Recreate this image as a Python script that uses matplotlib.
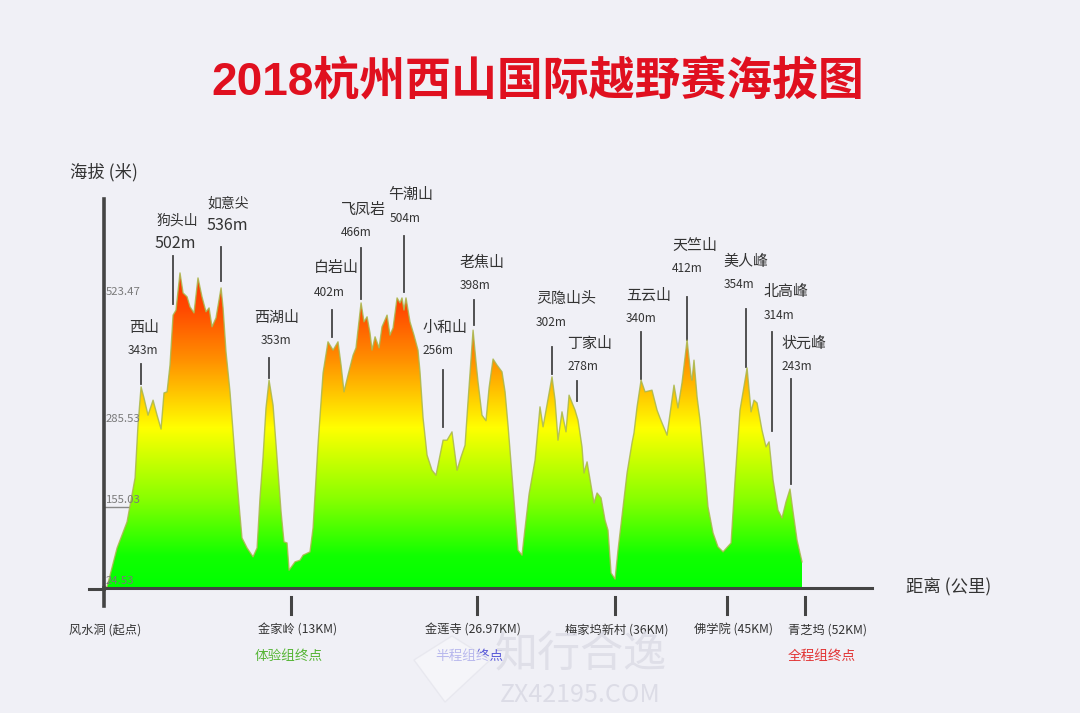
# 2018 杭州西山国际越野赛 海拔图

import numpy as np
import matplotlib
matplotlib.use('Agg')
import matplotlib.pyplot as plt
from matplotlib.colors import LinearSegmentedColormap
from matplotlib.patches import Polygon

plt.rcParams['font.family'] = ['Noto Sans CJK SC', 'DejaVu Sans']

# 赛道剖面: 距离(公里) / 海拔(米)
distance_km = [
    0, 0.23, 0.98, 1.73, 2.33, 2.55, 2.78, 3.0, 3.3, 3.68, 3.98, 4.28, 4.5, 4.73, 4.95, 5.18,
    5.4, 5.7, 5.93, 6.23, 6.45, 6.75, 7.05, 7.35, 7.65, 7.88, 8.1, 8.4, 8.78, 8.93, 9.15,
    9.45, 9.83, 10.13, 10.35, 10.73, 11.18, 11.48, 11.7, 11.93, 12.15, 12.38, 12.68, 12.98,
    13.28, 13.5, 13.73, 13.88, 14.33, 14.7, 14.93, 15.45, 15.68, 16.05, 16.43, 16.8, 17.18,
    17.55, 17.78, 18.0, 18.3, 18.68, 18.9, 19.28, 19.5, 19.73, 19.95, 20.1, 20.33, 20.63,
    20.85, 21.23, 21.45, 21.68, 21.98, 22.2, 22.35, 22.5, 22.65, 22.95, 23.25, 23.55, 23.7,
    23.93, 24.23, 24.6, 24.9, 25.2, 25.43, 25.73, 26.1, 26.48, 26.78, 27.08, 27.3, 27.68,
    27.9, 28.05, 28.35, 28.65, 28.88, 29.18, 29.48, 29.85, 30.08, 30.3, 30.6, 30.9, 31.05,
    31.35, 31.58, 31.88, 32.33, 32.7, 32.93, 33.6, 33.83, 34.05, 34.35, 34.65, 34.88, 35.33,
    35.55, 35.85, 36.0, 36.23, 36.75, 36.98, 37.28, 37.58, 37.8, 38.03, 38.33, 38.55, 39.23,
    39.6, 39.75, 39.98, 40.28, 40.58, 41.1, 41.48, 41.7, 42.23, 42.75, 43.05, 43.35, 43.73,
    44.03, 44.1, 44.25, 44.48, 44.7, 45.08, 45.3, 45.68, 46.05, 46.43, 47.03, 47.33, 47.7,
    48.23, 48.53, 48.75, 48.98, 49.35, 49.65, 49.88, 50.18, 50.55, 50.85, 51.15, 51.45,
    51.68, 51.98, 52.35,
]
elevation_m = [
    0, 2, 72, 119, 198, 293, 362, 342, 311, 338, 311, 286, 351, 353, 401, 491,
    500, 567, 531, 524, 506, 495, 558, 524, 497, 504, 470, 486, 540, 504, 425,
    353, 234, 149, 90, 72, 56, 72, 162, 236, 324, 374, 329, 234,
    137, 83, 81, 32, 47, 50, 59, 65, 108, 257, 387, 443, 428,
    443, 401, 353, 383, 419, 432, 513, 479, 488, 459, 428, 452, 432,
    470, 491, 455, 468, 522, 513, 522, 500, 522, 479, 455, 428, 389,
    306, 239, 212, 203, 239, 266, 266, 281, 212, 236, 257, 335, 464,
    407, 371, 311, 301, 360, 412, 401, 389, 353, 293, 203, 113, 68,
    59, 108, 169, 230, 326, 290, 380, 338, 266, 317, 281, 347, 320,
    302, 254, 207, 227, 153, 171, 162, 122, 104, 27, 16, 68, 207,
    261, 279, 326, 374, 353, 356, 320, 306, 275, 365, 324, 369, 446,
    380, 374, 410, 344, 302, 207, 146, 99, 74, 65, 81, 194, 320,
    396, 317, 338, 333, 284, 254, 263, 194, 140, 126, 155, 178,
    137, 86, 47,
]

# 山峰标注
peak_names = ['西山', '狗头山', '如意尖', '西湖山', '白岩山', '飞凤岩', '午潮山', '小和山',
              '老焦山', '灵隐山头', '丁家山', '五云山', '天竺山', '美人峰', '北高峰', '状元峰']
peak_heights = ['343m', '502m', '536m', '353m', '402m', '466m', '504m', '256m',
                '398m', '302m', '278m', '340m', '412m', '354m', '314m', '243m']

# 标注位置(像素): 名称x, 名称y, 数字x, 数字y, 引线x, 引线上, 引线下
peak_layout = [
    (144, 328, 143, 351, 141, 364, 384),
    (177, 221, 175, 243, 173, 256, 304),
    (228, 204, 227, 225, 221, 247, 281),
    (277, 318, 276, 340, 269, 358, 378),
    (336, 268, 329, 292, 332, 310, 337),
    (363, 210, 356, 232, 361, 248, 299),
    (411, 195, 405, 218, 404, 236, 292),
    (445, 328, 438, 351, 443, 370, 427),
    (482, 263, 475, 286, 474, 300, 325),
    (566, 299, 551, 322, 552, 347, 374),
    (590, 344, 583, 367, 577, 381, 401),
    (649, 296, 641, 319, 641, 332, 379),
    (695, 246, 687, 269, 687, 297, 340),
    (746, 262, 739, 285, 746, 309, 367),
    (786, 292, 779, 315, 772, 332, 431),
    (804, 344, 797, 367, 791, 379, 484),
]

# 左侧海拔读数
elev_labels = ['523.47', '285.53', '155.03', '24.53']
elev_label_y = [292, 419, 500, 581]

# 下方站点
station_names = ['风水洞 (起点)', '金家岭 (13KM)', '金莲寺 (26.97KM)', '梅家坞新村 (36KM)',
                 '佛学院 (45KM)', '青芝坞 (52KM)']
station_km = [0, 14.03, 27.98, 38.33, 46.73, 52.58]
station_label_x = [105, 298, 473, 617, 733, 827]
finish_names = ['体验组终点', '半程组终点', '全程组终点']
finish_colors = ['#55b535', '#5a5ad8', '#e23535']
finish_label_x = [289, 469, 822]

BG = '#f0f0f6'
DARK = '#444444'
TEXT = '#333333'


def px(x, y):
    # 像素坐标 -> 图坐标
    return x / 1080, 1 - y / 713


def pixel_line(x0, y0, x1, y1, color=DARK, lw=1.3):
    a, b = px(x0, y0)
    c, d = px(x1, y1)
    fig.add_artist(plt.Line2D([a, c], [b, d], color=color, lw=lw))


fig = plt.figure(figsize=(10.8, 7.13), dpi=100, facecolor=BG)

# 主坐标轴: 左 104 右 872 底 588 顶 199
ax = fig.add_axes([104 / 1080, 1 - 588 / 713, 768 / 1080, 389 / 713])
ax.set_facecolor('none')

# 渐变填充
grad_cmap = LinearSegmentedColormap.from_list('elev', [
    (0.0, '#00ff00'), (0.1, '#10ff00'), (0.28, '#88ff00'), (0.505, '#ffff00'),
    (0.72, '#ff9000'), (0.88, '#ff4a00'), (1.0, '#ff3000')])
grad = np.linspace(0, 1, 256).reshape(-1, 1)
im = ax.imshow(grad, cmap=grad_cmap, origin='lower', aspect='auto',
               extent=[0, 57.6, 0, 570], zorder=1)
clip = Polygon(list(zip(distance_km, elevation_m)) + [(distance_km[-1], 0), (0, 0)],
               closed=True, transform=ax.transData, facecolor='none', edgecolor='none')
ax.add_patch(clip)
im.set_clip_path(clip)
ax.plot(distance_km, elevation_m, color='#a9b84c', lw=1.0, alpha=0.85, zorder=2)
ax.set_xlim(0, 57.6)
ax.set_ylim(0, 700)

# 坐标轴
for side in ['top', 'right']:
    ax.spines[side].set_visible(False)
ax.spines['left'].set_color(DARK)
ax.spines['left'].set_linewidth(2.6)
ax.spines['bottom'].set_color(DARK)
ax.spines['bottom'].set_linewidth(2.2)
ax.set_xticks([])
ax.set_yticks([])
ax.set_zorder(3)

# 刻度是和轴线分开的短线
for km in station_km[1:]:
    x_pixel = 104 + km / 57.6 * 768
    pixel_line(x_pixel, 597, x_pixel, 614, lw=2.2)
pixel_line(104, 588, 104, 606, lw=2.6)
pixel_line(89, 589, 104, 589, lw=2.2)
pixel_line(105, 507, 131, 507, color='#888888', lw=1.0)

# 标题和轴标题
fig.text(*px(538, 83), '2018杭州西山国际越野赛海拔图', color='#e0101f', fontsize=33,
         fontweight='bold', ha='center', va='center',
         family=['Liberation Sans', 'Noto Sans CJK SC'])
fig.text(*px(104, 172), '海拔 (米)', color=TEXT, fontsize=12.5, ha='center', va='center')
fig.text(*px(949, 587), '距离 (公里)', color=TEXT, fontsize=12.5, ha='center', va='center')

# 海拔读数
for label, y in zip(elev_labels, elev_label_y):
    fig.text(*px(106, y), label, color='#7a7a7a', fontsize=8.2, ha='left', va='center', zorder=5)

# 山峰名称 + 高度 + 引线
for name, height, pos in zip(peak_names, peak_heights, peak_layout):
    nx, ny, hx, hy, lx, ly0, ly1 = pos
    big = height in ('502m', '536m')
    fig.text(*px(nx, ny), name, color=TEXT, fontsize=10 if big else 10.8, ha='center', va='center')
    fig.text(*px(hx, hy), height, color=TEXT, fontsize=11.5 if big else 8.6, ha='center', va='center')
    pixel_line(lx, ly0, lx, ly1)

# 站点
for name, x in zip(station_names, station_label_x):
    fig.text(*px(x, 630), name, color=TEXT, fontsize=8.8, ha='center', va='center')
for name, color, x in zip(finish_names, finish_colors, finish_label_x):
    fig.text(*px(x, 656), name, color=color, fontsize=9.8, ha='center', va='center')

# 水印
logo = [px(414, 660), px(452, 636), px(490, 660), px(445, 702)]
fig.add_artist(Polygon(logo, closed=True, transform=fig.transFigure, facecolor='#f9f9fc',
                       edgecolor='#e2e2ea', lw=1, alpha=0.6, zorder=6))
fig.text(*px(581, 655), '知行合逸', color='#dcdce6', fontsize=31, ha='center', va='center',
         alpha=0.85, zorder=6)
fig.text(*px(580, 695), 'ZX42195.COM', color='#dcdce6', fontsize=18, ha='center', va='center',
         zorder=6)

fig.savefig('out.png', dpi=100, facecolor=BG)
